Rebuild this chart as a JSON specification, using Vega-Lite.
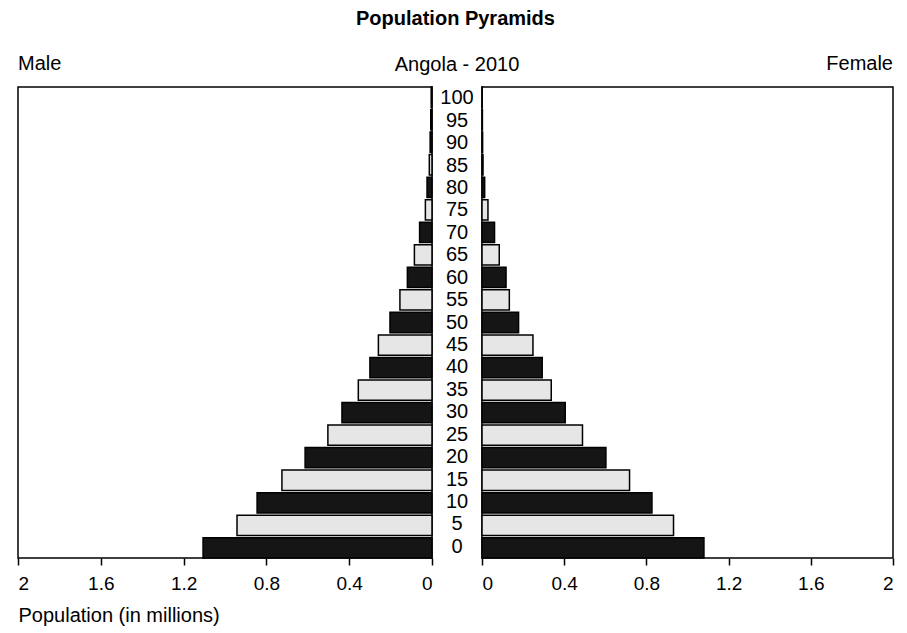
{
  "$schema": "https://vega.github.io/schema/vega-lite/v6.json",
  "padding": {"left": 16, "top": 8, "right": 5, "bottom": 5},
  "background": "white",
  "title": {"text": "Population Pyramids", "fontSize": 20, "fontWeight": "bold", "font": "Liberation Sans", "anchor": "middle", "baseline": "alphabetic", "offset": 9, "color": "black"},
  "datasets": {
    "pop": [
      {"age": 0, "male": 1.106, "female": 1.08},
      {"age": 5, "male": 0.942, "female": 0.932},
      {"age": 10, "male": 0.845, "female": 0.827},
      {"age": 15, "male": 0.725, "female": 0.718},
      {"age": 20, "male": 0.613, "female": 0.603},
      {"age": 25, "male": 0.503, "female": 0.489},
      {"age": 30, "male": 0.435, "female": 0.405},
      {"age": 35, "male": 0.356, "female": 0.337},
      {"age": 40, "male": 0.30, "female": 0.293},
      {"age": 45, "male": 0.259, "female": 0.248},
      {"age": 50, "male": 0.203, "female": 0.178},
      {"age": 55, "male": 0.155, "female": 0.133},
      {"age": 60, "male": 0.119, "female": 0.117},
      {"age": 65, "male": 0.085, "female": 0.084},
      {"age": 70, "male": 0.06, "female": 0.061},
      {"age": 75, "male": 0.032, "female": 0.029},
      {"age": 80, "male": 0.024, "female": 0.013},
      {"age": 85, "male": 0.013, "female": 0.005},
      {"age": 90, "male": 0.009, "female": 0.003},
      {"age": 95, "male": 0.006, "female": 0.002},
      {"age": 100, "male": 0.004, "female": 0.001}
    ]
  },
  "data": {"name": "pop"},
  "bounds": "flush",
  "spacing": 0,
  "resolve": {"scale": {"x": "independent", "y": "independent"}},
  "hconcat": [
    {
      "width": 414,
      "height": 471,
      "title": {"text": "Male", "anchor": "start", "frame": "group"},
      "mark": {"type": "bar", "stroke": "black", "strokeWidth": 1.5},
      "encoding": {
        "y": {"field": "age", "type": "ordinal", "sort": "descending", "axis": null, "scale": {"paddingInner": 0.1, "paddingOuter": 0}},
        "x": {"field": "male", "type": "quantitative", "scale": {"domain": [0, 2], "reverse": true, "nice": false},
          "axis": {"values": [0, 0.4, 0.8, 1.2, 1.6, 2], "format": "~g", "title": "Population (in millions)", "titleX": 0, "titleAlign": "left"}},
        "color": {"condition": {"test": "datum.age % 10 === 0", "value": "#151515"}, "value": "#e6e6e6"}
      }
    },
    {
      "width": 50,
      "height": 471,
      "title": {"text": "Angola - 2010", "anchor": "middle", "frame": "group"},
      "view": {"stroke": null},
      "mark": {"type": "text", "fontSize": 20, "font": "Liberation Sans", "align": "center", "baseline": "middle", "color": "black"},
      "encoding": {
        "y": {"field": "age", "type": "ordinal", "sort": "descending", "axis": null, "scale": {"paddingInner": 0.1, "paddingOuter": 0}},
        "text": {"field": "age", "type": "quantitative"}
      }
    },
    {
      "width": 411,
      "height": 471,
      "title": {"text": "Female", "anchor": "end", "frame": "group"},
      "mark": {"type": "bar", "stroke": "black", "strokeWidth": 1.5},
      "encoding": {
        "y": {"field": "age", "type": "ordinal", "sort": "descending", "axis": null, "scale": {"paddingInner": 0.1, "paddingOuter": 0}},
        "x": {"field": "female", "type": "quantitative", "scale": {"domain": [0, 2], "nice": false},
          "axis": {"values": [0, 0.4, 0.8, 1.2, 1.6, 2], "format": "~g", "title": null}},
        "color": {"condition": {"test": "datum.age % 10 === 0", "value": "#151515"}, "value": "#e6e6e6"}
      }
    }
  ],
  "config": {
    "font": "Liberation Sans",
    "view": {"stroke": "black", "strokeWidth": 1.5},
    "title": {"fontSize": 20, "fontWeight": "normal", "baseline": "alphabetic", "offset": 12, "color": "black", "font": "Liberation Sans"},
    "axis": {
      "grid": false,
      "domain": false,
      "tickColor": "black",
      "tickSize": 7,
      "tickWidth": 1.5,
      "labelFontSize": 19,
      "labelColor": "black",
      "labelPadding": 9,
      "labelFont": "Liberation Sans",
      "titleFontSize": 20,
      "titleFontWeight": "normal",
      "titleColor": "black",
      "titleFont": "Liberation Sans",
      "titlePadding": 12
    }
  }
}
